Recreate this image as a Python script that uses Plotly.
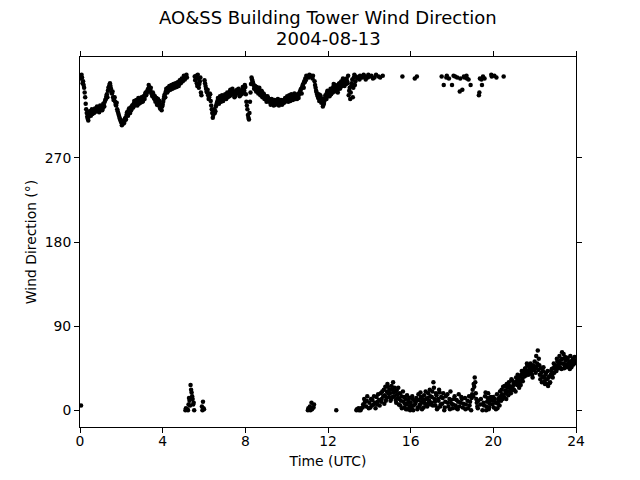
import plotly.graph_objects as go

# Wind direction (degrees).
# Set A: readings at h + 0.05*i ; Set B: readings at h + 0.025 + 0.05*i (one row per hour 0..23)
hour_step = 0.05
offset_b = 0.025
direction_rows_a = [
    [358, 5, 356, 352, 345, 335, 322, 314, 310, 316, 318, 320, 317, 321, 319, 322, 320, 324, 321, 323],   # 0
    [322, 325, 323, 327, 330, 333, 338, 342, 346, 350, 344, 339, 335, 333, 330, 326, 322, 318, 314, 311],  # 1
    [308, 306, 310, 309, 313, 316, 318, 321, 320, 324, 323, 326, 328, 326, 330, 329, 331, 328, 332, 330],  # 2
    [333, 331, 335, 338, 337, 341, 344, 346, 343, 340, 336, 338, 333, 330, 334, 328, 326, 331, 324, 321],  # 3
    [327, 333, 338, 341, 343, 345, 344, 346, 345, 347, 346, 348, 347, 349, 348, 350, 349, 352, 351, 354],  # 4
    [355, 357, 0, 359, 1, 6, 10, 27, 19, 12, 8, 357, 354, 350, 359, 345, 352, 340, 4, 9],                  # 5
    [1, 350, 344, 340, 337, 335, 338, 326, 318, 316, 322, 320, 327, 331, 333, 330, 334, 332, 335, 333],    # 6
    [334, 336, 338, 335, 339, 341, 337, 340, 342, 338, 336, 340, 343, 341, 339, 337, 340, 343, 345, 342],  # 7
    [346, 330, 322, 313, 318, 340, 356, 352, 348, 345, 343, 346, 341, 344, 340, 338, 341, 336, 338, 334],  # 8
    [335, 332, 334, 330, 331, 329, 332, 328, 330, 327, 331, 329, 328, 331, 329, 330, 328, 332, 330, 333],  # 9
    [331, 334, 332, 335, 333, 336, 332, 334, 337, 335, 333, 336, 338, 341, 344, 346, 349, 352, 355, 358],  # 10
    [357, 2, 359, 0, 8, 355, 3, 352, 345, 340, 336, 338, 333, 335, 330, 325, 328, 334, 337, 340],          # 11
    [336, 339, 341, 338, 343, 346, 344, 348, 0, 342, 347, 350, 345, 352, 349, 353, 347, 351, 355, 350],    # 12
    [337, 345, 340, 350, 335, 356, 348, 357, 1, 355, 0, 358, 2, 356, 6, 12, 357, 4, 15, 359],              # 13
    [8, 3, 358, 11, 6, 356, 2, 14, 9, 357, 5, 18, 12, 358, 22, 16, 10, 20, 25, 14],                         # 14
    [18, 12, 22, 30, 15, 20, 8, 17, 24, 12, 5, 15, 357, 9, 3, 12, 6, 1, 10, 4],                             # 15
    [8, 2, 12, 5, 355, 9, 357, 3, 11, 6, 14, 1, 9, 16, 7, 12, 4, 18, 10, 15],                               # 16
    [8, 20, 30, 12, 5, 16, 2, 10, 19, 6, 357, 13, 348, 3, 15, 358, 8, 355, 1, 11],                          # 17
    [348, 6, 12, 357, 2, 356, 9, 4, 355, 14, 343, 7, 356, 1, 358, 10, 354, 5, 348, 13],                     # 18
    [22, 28, 35, 18, 8, 2, 337, 355, 12, 348, 357, 5, 15, 0, 9, 18, 3, 11, 359, 6],                         # 19
    [14, 358, 8, 356, 2, 10, 5, 15, 22, 12, 357, 26, 18, 28, 20, 30, 24, 18, 32, 26],                       # 20
    [22, 30, 35, 27, 33, 24, 31, 38, 34, 42, 36, 45, 40, 48, 38, 44, 50, 42, 35, 46],                       # 21
    [52, 40, 47, 64, 55, 38, 45, 30, 42, 35, 28, 40, 33, 26, 36, 30, 42, 38, 45, 40],                       # 22
    [48, 42, 52, 45, 58, 50, 44, 55, 60, 48, 53, 46, 56, 50, 44, 52, 48, 55, 50, 53],                       # 23
]
direction_rows_b = [
    [355, 359, 350, 348, 340, 328, 318, 312, 314, 320, 315, 322, 319, 318, 323, 320, 325, 322, 319, 326],  # 0
    [324, 321, 328, 325, 332, 336, 335, 345, 348, 347, 340, 341, 332, 335, 327, 329, 320, 316, 312, 309],  # 1
    [305, 309, 307, 312, 311, 319, 315, 323, 318, 321, 326, 324, 331, 327, 332, 326, 334, 330, 329, 335],  # 2
    [330, 336, 333, 340, 339, 343, 348, 341, 345, 338, 340, 334, 336, 331, 327, 333, 329, 323, 327, 325],  # 3
    [330, 336, 335, 344, 340, 342, 347, 343, 348, 344, 349, 345, 350, 346, 351, 347, 353, 350, 355, 352],  # 4
    [358, 354, 2, 356, 0, 13, 5, 22, 15, 6, 0, 353, 358, 347, 355, 349, 356, 337, 0, 2],                   # 5
    [353, 347, 341, 343, 333, 339, 331, 322, 313, 319, 318, 325, 329, 334, 328, 336, 330, 337, 331, 336],  # 6
    [338, 333, 340, 337, 336, 343, 339, 344, 340, 335, 338, 342, 339, 344, 336, 341, 338, 346, 340, 348],  # 7
    [338, 326, 316, 311, 330, 349, 354, 350, 344, 347, 341, 343, 339, 345, 337, 342, 335, 339, 333, 336],  # 8
    [330, 336, 331, 333, 327, 333, 330, 326, 332, 329, 328, 333, 326, 330, 332, 327, 331, 329, 334, 331],  # 9
    [336, 330, 337, 331, 338, 333, 336, 339, 333, 337, 338, 334, 340, 343, 339, 348, 345, 351, 353, 356],  # 10
    [0, 356, 4, 358, 1, 358, 6, 348, 342, 338, 334, 331, 337, 329, 332, 327, 331, 337, 333, 342],          # 11
    [340, 336, 344, 341, 340, 349, 341, 346, 345, 340, 349, 344, 351, 347, 355, 350, 354, 349, 352, 358],  # 12
    [342, 333, 347, 354, 345, 359, 352, 0, 356, 2, 354, 0, 357, 3, 359, 8, 354, 10, 356, 2],               # 13
    [357, 12, 5, 355, 15, 8, 359, 6, 17, 11, 356, 9, 20, 15, 7, 25, 13, 28, 18, 22],                        # 14
    [10, 26, 14, 19, 24, 11, 21, 13, 6, 18, 10, 2, 20, 14, 7, 1, 16, 8, 13, 0],                             # 15
    [5, 15, 0, 10, 7, 13, 1, 17, 4, 19, 8, 12, 3, 11, 20, 5, 13, 8, 22, 6],                                 # 16
    [14, 5, 24, 9, 18, 1, 12, 22, 4, 14, 7, 18, 0, 9, 356, 17, 4, 12, 20, 7],                               # 17
    [2, 358, 15, 5, 11, 1, 17, 341, 8, 12, 3, 357, 13, 6, 355, 2, 15, 9, 0, 17],                            # 18
    [15, 25, 30, 12, 4, 10, 340, 6, 354, 0, 8, 355, 19, 4, 13, 1, 7, 14, 357, 10],                          # 19
    [3, 12, 1, 17, 7, 13, 20, 10, 17, 25, 14, 21, 12, 24, 16, 26, 21, 33, 22, 29],                          # 20
    [28, 20, 31, 38, 29, 36, 27, 42, 31, 39, 44, 37, 50, 42, 47, 40, 46, 38, 48, 43],                       # 21
    [45, 58, 50, 43, 48, 33, 40, 36, 46, 31, 38, 28, 42, 35, 29, 38, 44, 35, 50, 47],                       # 22
    [44, 55, 48, 51, 46, 54, 62, 50, 45, 57, 49, 55, 47, 52, 58, 46, 53, 49, 57, 51],                       # 23
]

x_ticks = [0, 4, 8, 12, 16, 20, 24]
y_ticks = [0, 90, 180, 270]
title_line1 = "AO&SS Building Tower Wind Direction"
title_line2 = "2004-08-13"
x_label = "Time (UTC)"
y_label = "Wind Direction (°)"

hours, direction = [], []
for h, row in enumerate(direction_rows_a):
    for i, v in enumerate(row):
        hours.append(h + i * hour_step)
        direction.append(v)
for h, row in enumerate(direction_rows_b):
    for i, v in enumerate(row):
        hours.append(h + offset_b + i * hour_step)
        direction.append(v)

fig = go.Figure()
fig.add_trace(go.Scatter(
    x=hours, y=direction, mode="markers",
    marker=dict(color="black", size=4.5, line=dict(width=0)),
    showlegend=False,
))

M_L, M_R, M_T, M_B = 80, 64, 57, 53
plot_h = 480 - M_T - M_B


def paper_y(px):
    return 1 + (M_T - px) / plot_h


font_family = "DejaVu Sans"
title_font = dict(size=18, family=font_family, color="black")
fig.update_layout(
    width=640, height=480,
    margin=dict(l=M_L, r=M_R, t=M_T, b=M_B, autoexpand=False),
    paper_bgcolor="white", plot_bgcolor="white",
    font=dict(family=font_family, color="black", size=13.9),
    annotations=[
        dict(text=title_line1, x=0.5, y=paper_y(18), xref="paper", yref="paper",
             xanchor="center", yanchor="middle", showarrow=False, font=title_font),
        dict(text=title_line2, x=0.5, y=paper_y(38), xref="paper", yref="paper",
             xanchor="center", yanchor="middle", showarrow=False, font=title_font),
    ],
)

fig.update_xaxes(
    range=[0, 24], tickvals=x_ticks, ticktext=[str(t) for t in x_ticks],
    showgrid=False, zeroline=False, showline=True, linecolor="black", linewidth=1,
    mirror="ticks", ticks="outside", ticklen=5, tickcolor="black", automargin=False,
    tickfont=dict(size=13.9), ticklabelstandoff=-4,
    title=dict(text=x_label, standoff=8, font=dict(size=13.9)),
)
fig.update_yaxes(
    range=[-18, 378], tickvals=y_ticks, ticktext=[str(t) for t in y_ticks],
    showgrid=False, zeroline=False, showline=True, linecolor="black", linewidth=1,
    mirror="ticks", ticks="outside", ticklen=5, tickcolor="black", automargin=False,
    tickfont=dict(size=13.9),
    title=dict(text=y_label, standoff=4, font=dict(size=13.9)),
)

fig.write_html("out.html", config={"displayModeBar": False},
               post_script="document.body.style.margin='0';")
